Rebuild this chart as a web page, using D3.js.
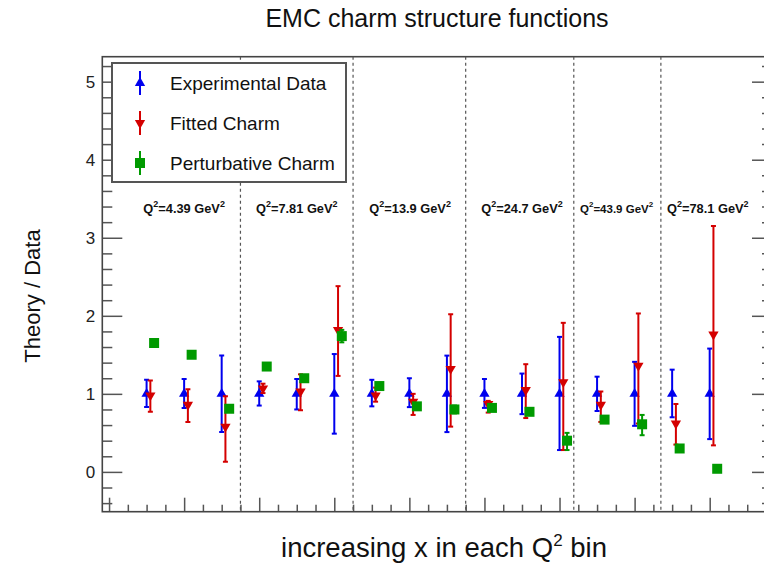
<!DOCTYPE html>
<html><head><meta charset="utf-8">
<script src="https://cdn.jsdelivr.net/npm/d3@7"></script>
<style>body{margin:0;background:#fff}svg{display:block}</style>
</head><body>
<svg id="c" width="764" height="565"></svg>
<script>
// ---------- data ----------
const pointX = [1,2,3,4,5,6,7,8,9,10,11,12,13,14,15,16];
const expVal  = [1,1,1,1,1,1,1,1,1,1,1,1,1,1,1,1];
const expLow  = [0.83,0.82,0.51,0.85,0.80,0.49,0.84,0.83,0.51,0.82,0.74,0.28,0.78,0.59,0.70,0.42];
const expHigh = [1.18,1.19,1.49,1.16,1.19,1.51,1.18,1.20,1.49,1.19,1.26,1.73,1.22,1.41,1.31,1.58];
const fitVal  = [0.98,0.86,0.58,1.07,1.03,1.82,0.98,0.90,1.32,0.87,1.05,1.15,0.86,1.36,0.62,1.76];
const fitLow  = [0.77,0.64,0.13,1.01,0.79,1.23,0.90,0.73,0.58,0.76,0.69,0.28,0.64,0.62,0.35,0.34];
const fitHigh = [1.17,1.06,0.97,1.13,1.25,2.38,1.08,1.00,2.02,0.91,1.38,1.91,1.03,2.03,0.87,3.15];
const pertVal  = [1.65,1.50,0.81,1.35,1.20,1.74,1.10,0.84,0.80,0.82,0.77,0.40,0.67,0.61,0.30,0.04];
const pertLow  = [1.63,1.48,0.79,1.33,1.18,1.66,1.08,0.82,0.75,0.80,0.75,0.28,0.65,0.47,0.28,0.02];
const pertHigh = [1.67,1.52,0.83,1.37,1.22,1.82,1.12,0.86,0.85,0.84,0.79,0.50,0.69,0.73,0.32,0.06];
const binLabels = ["4.39","7.81","13.9","24.7","43.9","78.1"];
const binLabelX = [2, 5, 8.02, 11, 13.52, 15.95];
const binSeparators = [3.5, 6.5, 9.5, 12.38, 14.7];
const yTickLabels = [0,1,2,3,4,5];
const legendLabels = ["Experimental Data","Fitted Charm","Perturbative Charm"];
const seriesColors = ["#0000ee","#d40000","#009a00"];

// ---------- layout ----------
const FONT = "'Liberation Sans', Arial, Helvetica, sans-serif";
const L = 102.3, R = 772, T = 56.7, B = 511.7;
const svg = d3.select("#c");
const x = d3.scaleLinear().domain([-0.18, 17.66]).range([L, R]);
const y = d3.scaleLinear().domain([-0.51, 5.32]).range([B, T]);

// title
svg.append("text").attr("x", 437).attr("y", 27).attr("text-anchor","middle")
  .attr("font-family", FONT).attr("font-size", 25).attr("fill","#111")
  .text("EMC charm structure functions");

// axis titles
const xt = svg.append("text").attr("x", 444).attr("y", 557).attr("text-anchor","middle")
  .attr("font-family", FONT).attr("font-size", 27.5).attr("fill","#111");
xt.append("tspan").text("increasing x in each Q");
xt.append("tspan").attr("dy", -11).attr("font-size", 17).text("2");
xt.append("tspan").attr("dy", 11).text(" bin");

svg.append("text").attr("transform","translate(40,296) rotate(-90)").attr("text-anchor","middle")
  .attr("font-family", FONT).attr("font-size", 22).attr("fill","#111")
  .text("Theory / Data");

// clip
svg.append("defs").append("clipPath").attr("id","pc").append("rect")
  .attr("x", L).attr("y", T).attr("width", R-L).attr("height", B-T);

// x ticks (inward)
const xMinor = d3.range(0, 17.01, 0.5).filter(v => v % 2 !== 0);
const xMajor = d3.range(0, 17.01, 2);
const gx1 = svg.append("g").attr("transform", `translate(0,${B})`)
  .call(d3.axisBottom(x).tickValues(xMinor).tickSizeInner(-7).tickSizeOuter(0).tickFormat(""));
const gx2 = svg.append("g").attr("transform", `translate(0,${B})`)
  .call(d3.axisBottom(x).tickValues(xMajor).tickSizeInner(-14).tickSizeOuter(0).tickFormat(""));

// y ticks (inward) left with labels, right without
const yMinor = d3.range(-0.4, 5.21, 0.2).map(v => Math.round(v*10)/10).filter(v => Math.abs(v - Math.round(v)) > 0.01);
const gy1 = svg.append("g").attr("transform", `translate(${L},0)`)
  .call(d3.axisLeft(y).tickValues(yMinor).tickSizeInner(-10).tickSizeOuter(0).tickFormat(""));
const gy2 = svg.append("g").attr("transform", `translate(${L},0)`)
  .call(d3.axisLeft(y).tickValues(yTickLabels).tickSizeInner(-20).tickSizeOuter(0).tickPadding(7).tickFormat(d3.format("d")));
const gy3 = svg.append("g").attr("transform", `translate(${R},0)`)
  .call(d3.axisRight(y).tickValues(yMinor).tickSizeInner(-10).tickSizeOuter(0).tickFormat(""));
const gy4 = svg.append("g").attr("transform", `translate(${R},0)`)
  .call(d3.axisRight(y).tickValues(yTickLabels).tickSizeInner(-20).tickSizeOuter(0).tickFormat(""));
[gx1,gx2,gy1,gy2,gy3,gy4].forEach(g => {
  g.select(".domain").remove();
  g.selectAll("line").attr("stroke","#555").attr("stroke-width",1.5);
});
gy2.selectAll("text").attr("font-family", FONT).attr("font-size", 17).attr("fill","#222");

svg.append("rect").attr("x", L).attr("y", T).attr("width", R-L).attr("height", B-T)
  .attr("fill","none").attr("stroke","#444").attr("stroke-width",1.6);

// separators
svg.append("g").selectAll("line").data(binSeparators).join("line")
  .attr("x1", d => x(d)).attr("x2", d => x(d)).attr("y1", T).attr("y2", B)
  .attr("stroke","#555").attr("stroke-width",1.2).attr("stroke-dasharray","3,3");

// bin labels
const bl = svg.append("g").selectAll("text").data(binLabels).join("text")
  .attr("x", (d,i) => x(binLabelX[i])).attr("y", 213).attr("text-anchor","middle")
  .attr("font-family", FONT).attr("font-weight","bold")
  .attr("font-size", (d,i) => i === 4 ? 11.5 : 12.8).attr("fill","#111");
bl.each(function(d,i){
  const t = d3.select(this);
  const sup = i === 4 ? 8 : 9;
  t.append("tspan").text("Q");
  t.append("tspan").attr("dy",-6).attr("font-size",sup).text("2");
  t.append("tspan").attr("dy",6).text("=" + d + " GeV");
  t.append("tspan").attr("dy",-6).attr("font-size",sup).text("2");
});

// series drawing
const series = [
  {val: expVal,  lo: expLow,  hi: expHigh,  dx: 0,   sym: d3.symbolTriangle, size: 46, rot: 0,   color: seriesColors[0]},
  {val: fitVal,  lo: fitLow,  hi: fitHigh,  dx: 0.1, sym: d3.symbolTriangle, size: 46, rot: 180, color: seriesColors[1]},
  {val: pertVal, lo: pertLow, hi: pertHigh, dx: 0.2, sym: d3.symbolSquare,   size: 100, rot: 0,  color: seriesColors[2]}
];
const cap = 2.5;
const plot = svg.append("g").attr("clip-path","url(#pc)");
series.forEach(s => {
  const g = plot.append("g");
  const idx = d3.range(pointX.length);
  g.selectAll("line.bar").data(idx).join("line").attr("class","bar")
    .attr("x1", i => x(pointX[i]+s.dx)).attr("x2", i => x(pointX[i]+s.dx))
    .attr("y1", i => y(s.lo[i])).attr("y2", i => y(s.hi[i]))
    .attr("stroke", s.color).attr("stroke-width", 2);
  g.selectAll("line.capl").data(idx).join("line").attr("class","capl")
    .attr("x1", i => x(pointX[i]+s.dx)-cap).attr("x2", i => x(pointX[i]+s.dx)+cap)
    .attr("y1", i => y(s.lo[i])).attr("y2", i => y(s.lo[i]))
    .attr("stroke", s.color).attr("stroke-width", 2);
  g.selectAll("line.caph").data(idx).join("line").attr("class","caph")
    .attr("x1", i => x(pointX[i]+s.dx)-cap).attr("x2", i => x(pointX[i]+s.dx)+cap)
    .attr("y1", i => y(s.hi[i])).attr("y2", i => y(s.hi[i]))
    .attr("stroke", s.color).attr("stroke-width", 2);
  g.selectAll("path").data(idx).join("path")
    .attr("d", d3.symbol().type(s.sym).size(s.size))
    .attr("transform", i => `translate(${x(pointX[i]+s.dx)},${y(s.val[i])}) rotate(${s.rot})`)
    .attr("fill", s.color);
});

// legend
const lg = svg.append("g");
lg.append("rect").attr("x", 112).attr("y", 63).attr("width", 234).attr("height", 119)
  .attr("fill","#fff").attr("stroke","#555").attr("stroke-width",2);
legendLabels.forEach((lab, i) => {
  const s = series[i];
  const cy = 83 + i*40;
  lg.append("line").attr("x1",140).attr("x2",140).attr("y1",cy-12).attr("y2",cy+12)
    .attr("stroke", s.color).attr("stroke-width",2);
  lg.append("path").attr("d", d3.symbol().type(s.sym).size(s.size))
    .attr("transform", `translate(140,${cy}) rotate(${s.rot})`).attr("fill", s.color);
  lg.append("text").attr("x",170).attr("y",cy+7).attr("font-family",FONT).attr("font-size",19)
    .attr("fill","#111").text(lab);
});
</script>
</body></html>
